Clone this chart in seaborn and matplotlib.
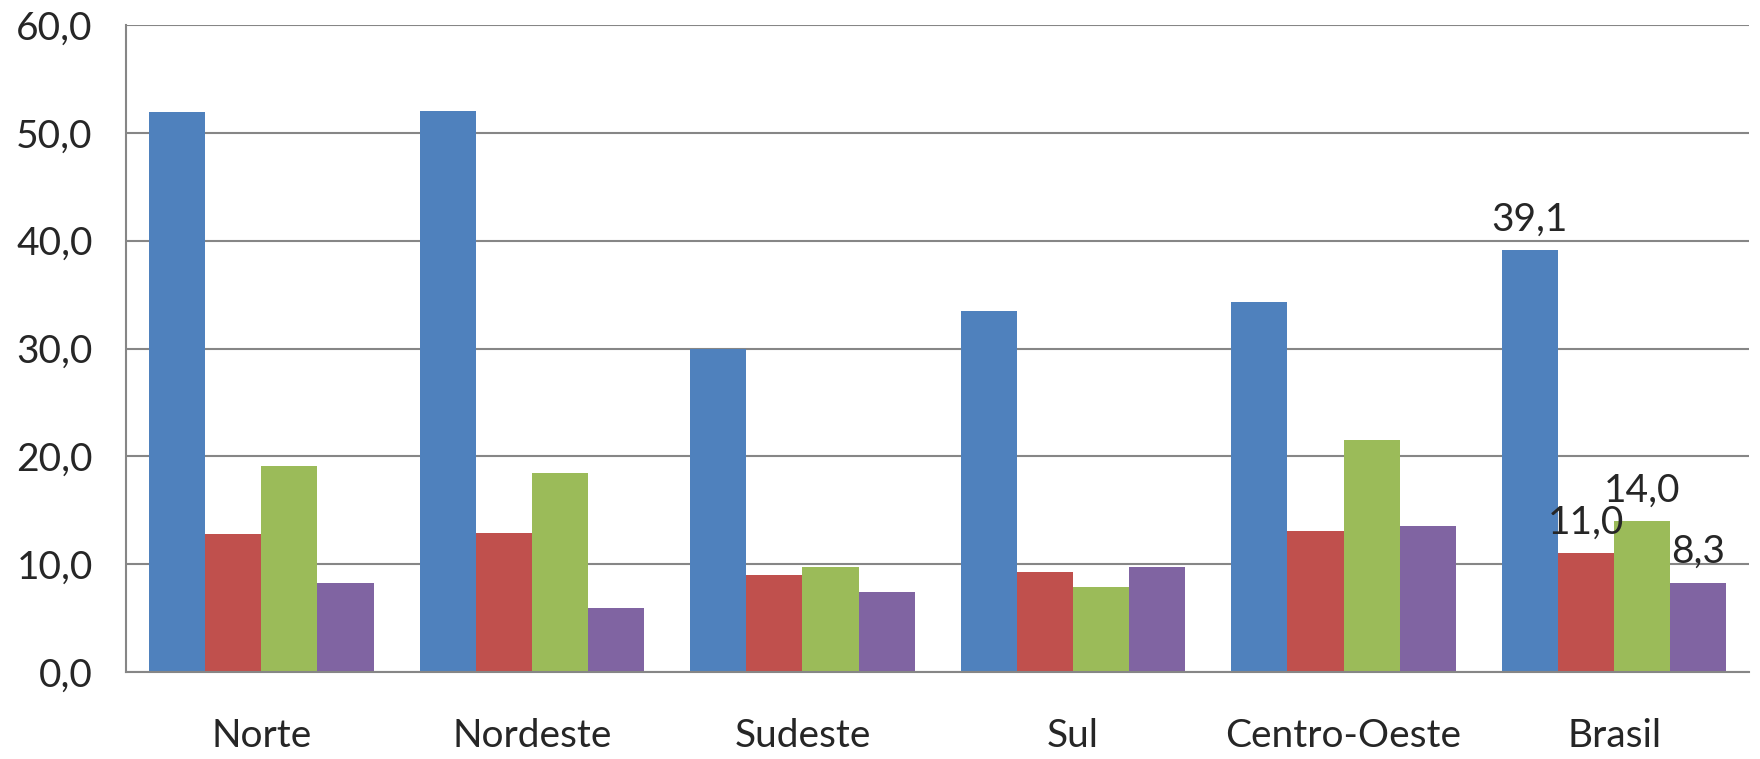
import pandas as pd
import matplotlib
matplotlib.use("Agg")
import matplotlib.pyplot as plt
import seaborn as sns
from matplotlib.ticker import FixedLocator, FuncFormatter

# ======================
# 数据
# ======================
regioes = ["Norte", "Nordeste", "Sudeste", "Sul", "Centro-Oeste", "Brasil"]
serie1 = [51.9, 52.0, 30.0, 33.5, 34.3, 39.1]
serie2 = [12.8, 12.9, 9.0, 9.3, 13.1, 11.0]
serie3 = [19.1, 18.5, 9.7, 7.9, 21.5, 14.0]
serie4 = [8.3, 5.9, 7.4, 9.7, 13.5, 8.3]
series = ["Série 1", "Série 2", "Série 3", "Série 4"]
cores = ["#4F81BD", "#C0504D", "#9BBB59", "#8064A2"]
y_ticks = [0, 10, 20, 30, 40, 50, 60]

df = pd.DataFrame({
    "Regiao": regioes * 4,
    "Valor": serie1 + serie2 + serie3 + serie4,
    "Serie": [s for s in series for _ in regioes],
})

# ======================
# 绘图
# ======================
sns.set_style("white")
plt.rcParams["font.family"] = ["Lato", "DejaVu Sans"]

fig = plt.figure(figsize=(17.6, 7.59), dpi=100)
ax = fig.add_axes([0.0716, 0.1146, 0.9224, 0.8524])

sns.barplot(data=df, x="Regiao", y="Valor", hue="Serie", order=regioes,
            hue_order=series, palette=cores, width=0.83, linewidth=0,
            saturation=1, legend=False, ax=ax)

ax.set_xlim(-0.5, len(regioes) - 0.5)
ax.set_ylim(0, 60)
ax.set_xlabel("")
ax.set_ylabel("")

grid_c = "#868686"
ax.yaxis.set_major_locator(FixedLocator(y_ticks))
ax.yaxis.set_major_formatter(FuncFormatter(lambda v, p: f"{v:.1f}".replace(".", ",")))
ax.grid(axis="y", color=grid_c, linewidth=1.5)
ax.set_axisbelow(True)

for s in ["top", "right"]:
    ax.spines[s].set_visible(False)
for s in ["left", "bottom"]:
    ax.spines[s].set_color(grid_c)
    ax.spines[s].set_linewidth(1.5)

# 类别之间的分隔刻度
ax.xaxis.set_minor_locator(FixedLocator([i - 0.5 for i in range(len(regioes) + 1)]))
ax.tick_params(axis="x", which="major", length=0, pad=33, labelsize=28)
ax.tick_params(axis="x", which="minor", length=13, width=1.5, color=grid_c, direction="out")
ax.tick_params(axis="y", which="major", length=13, width=1.5, color=grid_c,
               direction="out", labelsize=28, pad=11)

# Brasil 的数据标签
brasil_vals = [serie1[-1], serie2[-1], serie3[-1], serie4[-1]]
for cont, v in zip(ax.containers, brasil_vals):
    labels = [""] * (len(regioes) - 1) + [f"{v:.1f}".replace(".", ",")]
    ax.bar_label(cont, labels=labels, padding=9, fontsize=28)

fig.savefig("out.png", dpi=100)
